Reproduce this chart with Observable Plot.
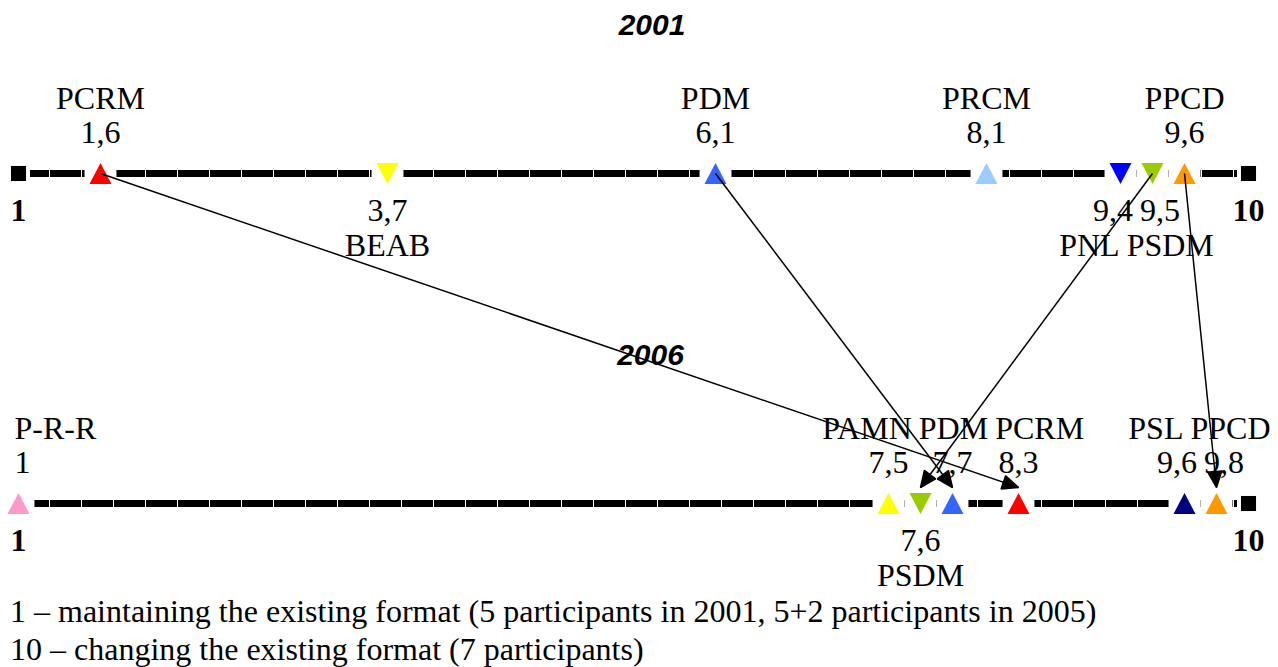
<!DOCTYPE html>
<html><head><meta charset="utf-8">
<script src="https://cdn.jsdelivr.net/npm/d3@7"></script>
<script src="https://cdn.jsdelivr.net/npm/@observablehq/plot@0.6"></script>
<style>
body{margin:0;background:#fff;}
#title{font-family:"Liberation Sans",Arial,sans-serif;font-weight:bold;font-style:italic;font-size:30px;height:50px;line-height:50px;text-align:center;padding-left:26px;box-sizing:border-box;width:1278px;}
#caption{font-family:"Liberation Serif","Times New Roman",serif;font-size:32px;line-height:38px;margin-left:10px;color:#000;white-space:nowrap;}
</style></head><body>
<div id="title"></div>
<div id="chart"></div>
<div id="caption"></div>
<script>
// ---- data ----
const years = ["2001", "2006"];
const parties2001 = ["PCRM", "BEAB", "PDM", "PRCM", "PNL", "PSDM", "PPCD"];
const scores2001 = [1.6, 3.7, 6.1, 8.1, 9.4, 9.5, 9.6];
const parties2006 = ["P-R-R", "PAMN", "PSDM", "PDM", "PCRM", "PSL", "PPCD"];
const scores2006 = [1, 7.5, 7.6, 7.7, 8.3, 9.6, 9.8];
const labelBelow = ["BEAB", "PNL", "PSDM"]; // down-pointing markers, labelled below the line
const scaleEnds = [1, 10];
const partyNames = ["PCRM", "BEAB", "PDM", "PRCM", "PNL", "PSDM", "PPCD", "P-R-R", "PAMN", "PSL"];
const partyColors = ["#FF0000", "#FFFF00", "#3366FF", "#99CCFF", "#0000FF", "#99CC00", "#FF9900", "#FF99CC", "#FFFF00", "#000080"];
const captionLines = [
  "1 \u2013 maintaining the existing format (5 participants in 2001, 5+2 participants in 2005)",
  "10 \u2013 changing the existing format (7 participants)"
];

// ---- layout settings ----
const W = 1278, H = 542, LEFT = 18, RIGHT = 1248, FONT = 32, SLOT = 32;
const M_TOP = 123, M_BOTTOM = 89, ARROW_LIFT = 16; // arrows stop at the top of the target marker

// ---- derived tables ----
const rowY = y => years.length - 1 - years.indexOf(y); // 2001 on top
const rows = [
  ...parties2001.map((p, i) => ({year: years[0], party: p, score: scores2001[i]})),
  ...parties2006.map((p, i) => ({year: years[1], party: p, score: scores2006[i]}))
];
rows.forEach(d => { d.down = labelBelow.includes(d.party); d.yv = rowY(d.year); });
const fmt = v => String(v).replace(".", ",");
const ends = years.flatMap(y => scaleEnds.map(v => ({year: y, yv: rowY(y), score: v})));
const endsFree = ends.filter(e => !rows.some(d => d.year === e.year && d.score === e.score));
const lineRows = years.map(y => ({yv: rowY(y), a: scaleEnds[0], b: scaleEnds[1]}));
const lift = ARROW_LIFT / (H - M_TOP - M_BOTTOM);
const moves = parties2001.filter(p => parties2006.includes(p)).map(p => ({
  party: p,
  from: scores2001[parties2001.indexOf(p)], y1: rowY(years[0]),
  to: scores2006[parties2006.indexOf(p)], y2: rowY(years[1]) + lift
}));

// 1-D collision avoidance: keeps items in order, pushes overlapping ones apart symmetrically
function spread(items, gap, lo, hi) {
  const order = d3.range(items.length).sort((a, b) => items[a].pos - items[b].pos);
  const place = g => {
    const total = d3.sum(g.idx, i => items[i].w) + gap * (g.idx.length - 1);
    const mean = d3.mean(g.idx, i => items[i].pos);
    g.start = Math.max(lo, Math.min(hi - total, mean - total / 2));
    g.end = g.start + total;
  };
  const groups = order.map(i => ({idx: [i]}));
  groups.forEach(place);
  for (let again = true; again;) {
    again = false;
    for (let k = 1; k < groups.length; k++) {
      if (groups[k].start < groups[k - 1].end + gap) {
        groups[k - 1].idx.push(...groups[k].idx);
        groups.splice(k, 1);
        place(groups[k - 1]);
        again = true; break;
      }
    }
  }
  const out = [];
  for (const g of groups) { let x = g.start; for (const i of g.idx) { out[i] = x + items[i].w / 2; x += items[i].w + gap; } }
  return out;
}

// schematic axis: linear in score, locally stretched so that markers never overlap
const uniq = Array.from(new Set([...scaleEnds, ...scores2001, ...scores2006])).sort((a, b) => a - b);
const lin = d3.scaleLinear().domain(scaleEnds).range([LEFT, RIGHT]);
const pos = spread(uniq.map(v => ({pos: lin(v), w: SLOT})), 0, LEFT - SLOT / 2, RIGHT + SLOT / 2);
const xs = d3.scaleLinear().domain(uniq).range(pos);

// label lanes, spread so that texts do not collide
const ctx = document.createElement("canvas").getContext("2d");
ctx.font = `${FONT}px 'Liberation Serif'`;
const labels = [];
for (const y of years) {
  const r = rows.filter(d => d.year === y);
  const lanes = [
    ["nameAbove", r.filter(d => !d.down), d => d.party],
    ["valueAbove", r.filter(d => !d.down), d => fmt(d.score)],
    ["valueBelow", r.filter(d => d.down), d => fmt(d.score)],
    ["nameBelow", r.filter(d => d.down), d => d.party]
  ];
  for (const [kind, list, tf] of lanes) {
    const items = list.map(d => ({pos: xs(d.score), w: ctx.measureText(tf(d)).width}));
    const px = spread(items, 7, 14, W - 8);
    list.forEach((d, i) => labels.push({yv: rowY(y), kind, text: tf(d), lx: xs.invert(px[i])}));
  }
}

document.getElementById("title").textContent = years[0];
document.getElementById("caption").innerHTML = captionLines.map(s => `<div>${s}</div>`).join("");

// ---- symbols ----
const triUp = {draw(c, size) { const r = Math.sqrt(size / Math.PI), w = r * 1.05, h = r;
  c.moveTo(0, -h); c.lineTo(w, h); c.lineTo(-w, h); c.closePath(); }};
const triDown = {draw(c, size) { const r = Math.sqrt(size / Math.PI), w = r * 1.05, h = r;
  c.moveTo(0, h); c.lineTo(w, -h); c.lineTo(-w, -h); c.closePath(); }};

function filledArrow(color) {
  const ns = "http://www.w3.org/2000/svg";
  const m = document.createElementNS(ns, "marker");
  m.setAttribute("viewBox", "-20 -8 40 16");
  m.setAttribute("markerWidth", 40);
  m.setAttribute("markerHeight", 16);
  m.setAttribute("markerUnits", "userSpaceOnUse");
  m.setAttribute("refX", 0);
  m.setAttribute("refY", 0);
  m.setAttribute("orient", "auto");
  const p = document.createElementNS(ns, "path");
  p.setAttribute("d", "M0,0L-16,-7L-16,7Z");
  p.setAttribute("fill", color === "currentColor" ? "black" : color);
  m.appendChild(p);
  return m;
}
let moveMark;
try {
  moveMark = Plot.link(moves, {x1: "from", y1: "y1", x2: "to", y2: "y2", stroke: "black", strokeWidth: 1.5, markerEnd: filledArrow});
} catch (e) {
  moveMark = Plot.arrow(moves, {x1: "from", y1: "y1", x2: "to", y2: "y2", stroke: "black", strokeWidth: 1.5, headLength: 15});
}

const rowsA = rows.filter(d => d.year === years[0]);
const rowsB = rows.filter(d => d.year === years[1]);
const txt = {x: "lx", y: "yv", text: "text", fontSize: FONT, fill: "black"};
const kindDy = {nameAbove: -75, valueAbove: -41, valueBelow: 37, nameBelow: 72};

const chart = Plot.plot({
  width: W, height: H,
  marginLeft: LEFT, marginRight: W - RIGHT, marginTop: M_TOP, marginBottom: M_BOTTOM,
  x: {type: "linear", domain: uniq, range: pos, axis: null},
  y: {domain: [0, years.length - 1], axis: null},
  color: {domain: partyNames, range: partyColors},
  style: {fontFamily: "'Liberation Serif','Times New Roman',serif", background: "#fff", color: "#000", overflow: "visible"},
  marks: [
    Plot.ruleY(lineRows, {y: "yv", x1: "a", x2: "b", stroke: "black", strokeWidth: 7, strokeDasharray: "31,1"}),
    Plot.dot(rows, {x: "score", y: "yv", symbol: "square", r: 18, fill: "white"}),
    Plot.dot(ends, {x: "score", y: "yv", symbol: "square", r: 13, fill: "white"}),
    Plot.dot(endsFree, {x: "score", y: "yv", symbol: "square", r: 8.5, fill: "black"}),
    // labels
    ...Object.keys(kindDy).map(k => Plot.text(labels.filter(l => l.kind === k), {...txt, dy: kindDy[k]})),
    Plot.text(ends, {x: "score", y: "yv", text: d => fmt(d.score), fontSize: FONT, dy: 37, fontWeight: "bold"}),
    Plot.text([years[1]], {frameAnchor: "middle", text: d => d, dx: 17, dy: 17, fontSize: 30, fontWeight: "bold", fontStyle: "italic", fontFamily: "'Liberation Sans',Arial,sans-serif"}),
    // 2001 markers
    Plot.dot(rowsA.filter(d => !d.down), {x: "score", y: "yv", symbol: triUp, r: 10.5, fill: "party"}),
    Plot.dot(rowsA.filter(d => d.down), {x: "score", y: "yv", symbol: triDown, r: 10.5, fill: "party"}),
    // 2006 markers
    Plot.dot(rowsB.filter(d => !d.down), {x: "score", y: "yv", symbol: triUp, r: 10.5, fill: "party"}),
    Plot.dot(rowsB.filter(d => d.down), {x: "score", y: "yv", symbol: triDown, r: 10.5, fill: "party"}),
    // movement arrows
    moveMark
  ]
});
document.getElementById("chart").appendChild(chart);
</script>
</body></html>
